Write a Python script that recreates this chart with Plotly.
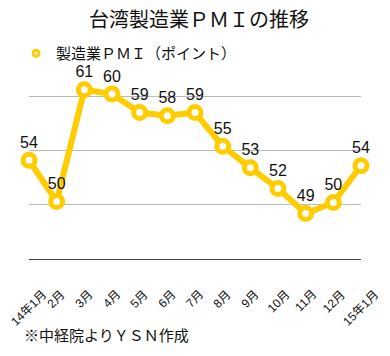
import plotly.graph_objects as go

months = ["14年1月", "2月", "3月", "4月", "5月", "6月", "7月", "8月", "9月", "10月", "11月", "12月", "15年1月"]
pmi = [54.1, 50.3, 60.6, 60.2, 58.5, 58.2, 58.5, 55.4, 53.4, 51.5, 49.2, 50.2, 53.6]
labels = ["54", "50", "61", "60", "59", "58", "59", "55", "53", "52", "49", "50", "54"]
y_ticks = [45, 50, 55, 60, 65]

YELLOW = "#FFCC00"
FONT = "Liberation Sans, Noto Sans CJK JP, sans-serif"

fig = go.Figure()
fig.add_trace(go.Scatter(
    x=list(range(len(months))), y=pmi,
    mode="lines+markers+text",
    text=labels, textposition="top center",
    textfont=dict(size=16, color="#111111", family=FONT),
    line=dict(color=YELLOW, width=6),
    marker=dict(size=12, color="white", line=dict(color=YELLOW, width=5)),
    showlegend=False, cliponaxis=False,
))
fig.add_trace(go.Scatter(
    x=[None], y=[None], mode="markers",
    marker=dict(size=6, color="white", line=dict(color=YELLOW, width=3)),
    name="製造業ＰＭＩ（ポイント）", showlegend=True,
))

month_annotations = [
    dict(text=m, x=i, xref="x", y=0, yref="paper", xanchor="center", yanchor="top",
         yshift=-26, textangle=-45, showarrow=False,
         font=dict(size=12, family=FONT, color="#111111"))
    for i, m in enumerate(months)
]

W, H = 382, 348
fig.update_layout(
    width=W, height=H,
    margin=dict(l=21, r=29, t=34, b=97, autoexpand=False),
    paper_bgcolor="white", plot_bgcolor="white",
    font=dict(family=FONT, color="#111111"),
    title=dict(text="台湾製造業ＰＭＩの推移", x=(191) / W, xanchor="center",
               y=1 - 12 / H, yanchor="middle",
               font=dict(size=20, color="#111111", family=FONT)),
    legend=dict(x=-0.039, xanchor="left", y=1.023, yanchor="top",
                font=dict(size=15, family=FONT, color="#111111"),
                bgcolor="rgba(0,0,0,0)", itemwidth=30),
    xaxis=dict(range=[0, len(months) - 1], tickmode="array",
               tickvals=list(range(len(months))), showticklabels=False,
               automargin=False,
               showgrid=False, showline=True, linecolor="#444444", linewidth=1,
               zeroline=False, ticks=""),
    yaxis=dict(range=[y_ticks[0], y_ticks[-1]], tickmode="array", tickvals=y_ticks,
               showticklabels=False, showgrid=True, gridcolor="#bbbbbb", gridwidth=1,
               zeroline=False, showline=False, automargin=False),
    annotations=month_annotations + [
        dict(text="※中経院よりＹＳＮ作成", xref="paper", yref="paper",
             x=-7 / 332, y=(259 - 335) / 217, xanchor="left", yanchor="middle",
             showarrow=False, font=dict(size=15, family=FONT, color="#111111"))],
)

fig.write_html("out.html")
